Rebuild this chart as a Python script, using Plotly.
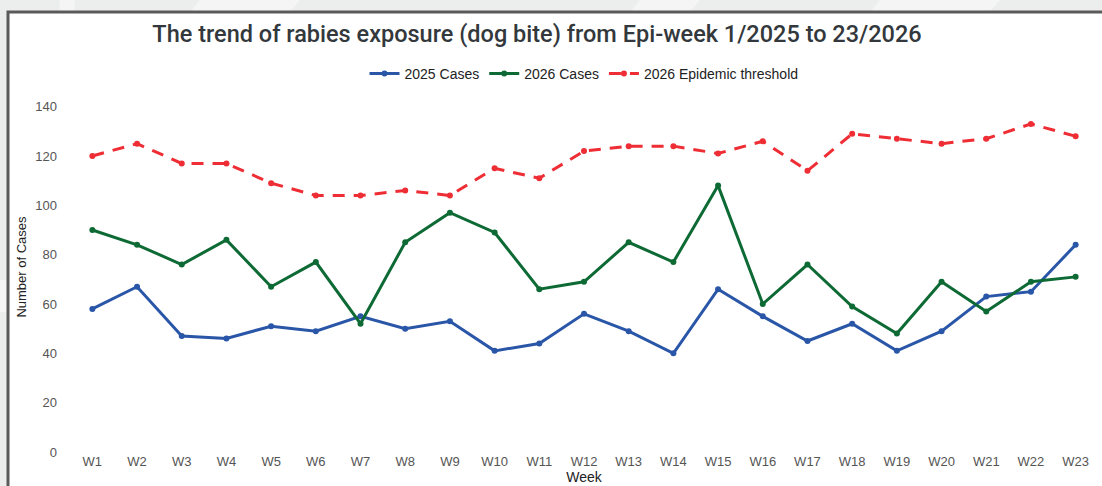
import plotly.graph_objects as go

weeks = [f"W{i}" for i in range(1, 24)]
cases_2025 = [58, 67, 47, 46, 51, 49, 55, 50, 53, 41, 44, 56, 49, 40, 66, 55, 45, 52, 41, 49, 63, 65, 84]
cases_2026 = [90, 84, 76, 86, 67, 77, 52, 85, 97, 89, 66, 69, 85, 77, 108, 60, 76, 59, 48, 69, 57, 69, 71]
threshold_2026 = [120, 125, 117, 117, 109, 104, 104, 106, 104, 115, 111, 122, 124, 124, 121, 126, 114, 129, 127, 125, 127, 133, 128]
y_ticks = [0, 20, 40, 60, 80, 100, 120, 140]

W, H = 1102, 486
L, R, T, B = 70, 4, 82, 34
pw, ph = W - L - R, H - T - B


def px_x(x):
    return (x - L) / pw


def px_y(y):
    return (H - B - y) / ph


fig = go.Figure()
fig.add_trace(go.Scatter(
    x=weeks, y=cases_2025, name="2025 Cases", mode="lines+markers",
    line=dict(color="#2a56a8", width=3), marker=dict(size=6, color="#2a56a8")))
fig.add_trace(go.Scatter(
    x=weeks, y=cases_2026, name="2026 Cases", mode="lines+markers",
    line=dict(color="#0e6a35", width=3), marker=dict(size=6, color="#0e6a35")))
fig.add_trace(go.Scatter(
    x=weeks, y=threshold_2026, name="2026 Epidemic threshold", mode="lines+markers",
    line=dict(color="#ee2d35", width=3, dash="12px,9px"), marker=dict(size=6, color="#ee2d35")))

# faint decorative background bands
for pts in [[(60, 0), (75, 0), (45, 486), (30, 486)],
            [(200, 0), (300, 0), (290, 12), (190, 12)],
            [(640, 0), (700, 0), (690, 12), (630, 12)],
            [(880, 0), (1000, 0), (990, 12), (870, 12)],
            [(0, 280), (8, 280), (8, 312), (0, 312)]]:
    path = "M" + " L".join(f"{px_x(x):.5f},{px_y(y):.5f}" for x, y in pts) + " Z"
    fig.add_shape(type="path", xref="paper", yref="paper", path=path,
                  fillcolor="#f4f5f4", line=dict(width=0), layer="below")

fig.add_shape(type="rect", xref="paper", yref="paper",
              x0=px_x(8), x1=px_x(1115), y0=px_y(500), y1=px_y(12),
              fillcolor="white", line=dict(color="#5a5a5a", width=3), layer="below")

fig.update_layout(
    width=W, height=H,
    margin=dict(l=L, r=R, t=T, b=B),
    paper_bgcolor="#eceeed",
    plot_bgcolor="rgba(0,0,0,0)",
    title=dict(text="The trend of rabies exposure (dog bite) from Epi-week 1/2025 to 23/2026",
               x=px_x(537), xref="paper", xanchor="center",
               y=1 - 34 / H, yanchor="middle",
               font=dict(family="Roboto", size=23.5, color="#33383c", weight=500)),
    legend=dict(orientation="h", x=0.5, xanchor="center", y=px_y(74), yanchor="middle",
                font=dict(family="Liberation Sans", size=14, color="#222222"),
                bgcolor="rgba(0,0,0,0)"),
    font=dict(family="Liberation Sans", size=13, color="#555555"),
    xaxis=dict(type="category", range=[-0.5, 22.5], showgrid=False, zeroline=False,
               showline=False, ticks="",
               tickfont=dict(size=13, color="#555555"),
               title=dict(text="Week", font=dict(size=14, color="#222222"), standoff=0)),
    yaxis=dict(range=[0, 150], tickvals=y_ticks, showgrid=False, zeroline=False,
               showline=False, ticks="", ticklabelstandoff=12,
               tickfont=dict(size=13, color="#555555"),
               title=dict(text="Number of Cases", font=dict(size=13, color="#222222"), standoff=5)),
    showlegend=True,
)

fig.write_html("out.html", config={"displayModeBar": False},
               post_script="document.body.style.margin='0';document.body.style.overflow='hidden';")
